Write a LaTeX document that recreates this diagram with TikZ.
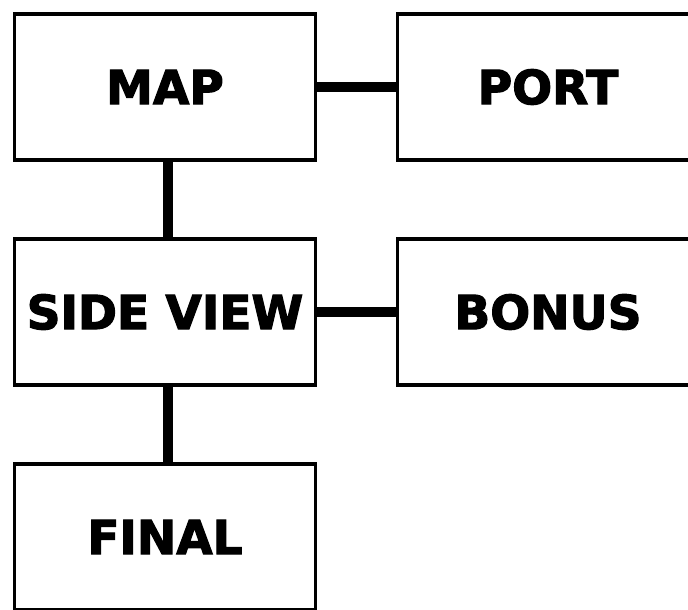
\documentclass[tikz,border=0pt]{standalone}
\usepackage{fontspec}
\setmainfont{DejaVu Sans}
\newfontfamily\screenfont[FakeBold=2.5]{DejaVu Sans Bold}
\usetikzlibrary{positioning}

\begin{document}
\begin{tikzpicture}[x=1pt,y=-1pt,node distance=225pt and 383pt,on grid,
  screen/.style={draw,line width=3.5pt,minimum width=301pt,minimum height=146pt,
    inner sep=0pt,font=\screenfont\fontsize{47}{47}\selectfont},
  link/.style={line width=10pt}]
  \useasboundingbox (0,0) rectangle (688,610);
  \node[screen] (map)   at (165,87)       {MAP};
  \node[screen] (port)  [right=of map]    {PORT};
  \node[screen] (side)  [below=of map]    {SIDE VIEW};
  \node[screen] (bonus) [right=of side]   {BONUS};
  \node[screen] (final) [below=of side]   {FINAL};

  \draw[link] (map) -- (port);
  \draw[link] ([xshift=3pt]map.south) -- ([xshift=3pt]side.north);
  \draw[link] (side) -- (bonus);
  \draw[link] ([xshift=3pt]side.south) -- ([xshift=3pt]final.north);
\end{tikzpicture}
\end{document}
